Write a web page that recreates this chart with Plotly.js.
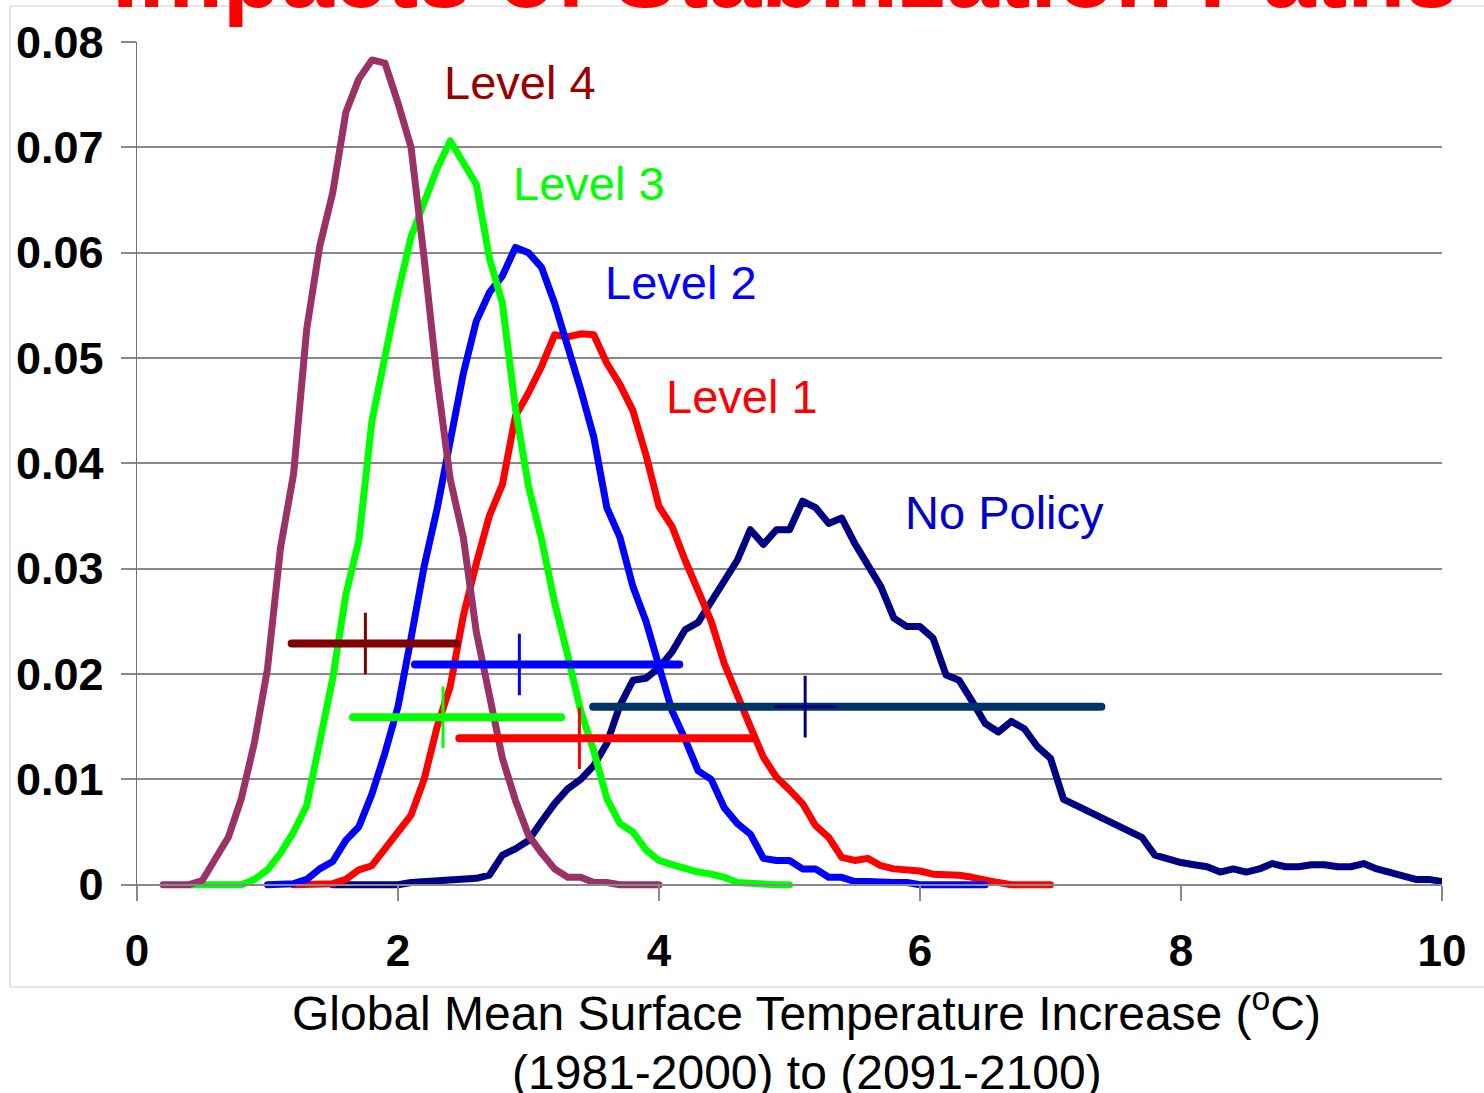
<!DOCTYPE html>
<html>
<head>
<meta charset="utf-8">
<script src="https://cdn.plot.ly/plotly-3.0.1.min.js"></script>
<style>
  html, body { margin: 0; padding: 0; background: #ffffff; }
  #chart { width: 1484px; height: 1093px; }
  /* rounded joins and ends for the density curves and range bars */
  #chart .scatterlayer .js-line { stroke-linejoin: round; stroke-linecap: round; }
</style>
</head>
<body>
<div id="chart"></div>
<script>
// Probability density of warming (°C, 1981-2000 to 2091-2100), 0.1 °C bins.
const seriesNames = ['No Policy', 'Level 1', 'Level 2', 'Level 3', 'Level 4'];
const binStart = [1.5, 1.2, 1.0, 0.4, 0.2];
const binStep = 0.1;

const noPolicy = [
  0, 0, 0, 0, 0, 0, 0.0002, 0.0003, 0.0004, 0.0005,
  0.0006, 0.0006, 0.0009, 0.0028, 0.0034, 0.0042, 0.0060, 0.0077, 0.0091, 0.0100,
  0.0113, 0.0134, 0.0170, 0.0194, 0.0196, 0.0206, 0.0221, 0.0242, 0.0249, 0.0268,
  0.0290, 0.0308, 0.0337, 0.0323, 0.0337, 0.0337, 0.0364, 0.0358, 0.0343, 0.0348,
  0.0324, 0.0304, 0.0283, 0.0253, 0.0245, 0.0245, 0.0234, 0.0199, 0.0194, 0.0174,
  0.0153, 0.0145, 0.0155, 0.0148, 0.0131, 0.0120, 0.0081, 0.0075, 0.0069, 0.0064,
  0.0058, 0.0052, 0.0045, 0.0028, 0.0024, 0.0021, 0.0019, 0.0017, 0.0012, 0.0015,
  0.0012, 0.0015, 0.0020, 0.0017, 0.0017, 0.0019, 0.0019, 0.0017, 0.0017, 0.0020,
  0.0015, 0.0012, 0.0009, 0.0005, 0.0005, 0.0003
];
const level1 = [
  0, 0, 0, 0.0001, 0.0005, 0.0014, 0.0018, 0.0034, 0.0050, 0.0066,
  0.0100, 0.0150, 0.0188, 0.0255, 0.0305, 0.0350, 0.0380, 0.0445, 0.0467, 0.0492,
  0.0522, 0.0520, 0.0523, 0.0522, 0.0495, 0.0475, 0.0450, 0.0408, 0.0359, 0.0340,
  0.0308, 0.0280, 0.0250, 0.0210, 0.0182, 0.0150, 0.0121, 0.0102, 0.0090, 0.0077,
  0.0056, 0.0045, 0.0026, 0.0023, 0.0025, 0.0018, 0.0015, 0.0014, 0.0013, 0.0010,
  0.0010, 0.0009, 0.0007, 0.0004, 0.0002, 0, 0, 0, 0
];
const level2 = [
  0, 0, 0.0001, 0.0005, 0.0015, 0.0022, 0.0042, 0.0055, 0.0086, 0.0125,
  0.0169, 0.0234, 0.0302, 0.0357, 0.0425, 0.0485, 0.0535, 0.0562, 0.0578, 0.0605,
  0.0600, 0.0586, 0.0552, 0.0512, 0.0470, 0.0425, 0.0358, 0.0330, 0.0283, 0.0250,
  0.0205, 0.0165, 0.0138, 0.0108, 0.0100, 0.0073, 0.0058, 0.0048, 0.0025, 0.0023,
  0.0023, 0.0015, 0.0015, 0.0007, 0.0007, 0.0003, 0.0003, 0.0002, 0.0002, 0.0002,
  0, 0, 0, 0, 0, 0
];
const level3 = [
  0, 0, 0, 0, 0, 0.0005, 0.0014, 0.0030, 0.0050, 0.0075,
  0.0135, 0.0196, 0.0275, 0.0327, 0.0440, 0.0505, 0.0562, 0.0615, 0.0648, 0.0680,
  0.0706, 0.0686, 0.0665, 0.0595, 0.0552, 0.0452, 0.0378, 0.0328, 0.0268, 0.0218,
  0.0165, 0.0127, 0.0082, 0.0058, 0.0050, 0.0033, 0.0023, 0.0019, 0.0015, 0.0012,
  0.0010, 0.0007, 0.0002, 0.0001, 0, 0, 0
];
const level4 = [
  0, 0, 0, 0.0004, 0.0025, 0.0045, 0.0082, 0.0135, 0.0205, 0.0320,
  0.0390, 0.0527, 0.0606, 0.0657, 0.0733, 0.0765, 0.0783, 0.0780, 0.0742, 0.0700,
  0.0595, 0.0480, 0.0385, 0.0330, 0.0240, 0.0178, 0.0120, 0.0080, 0.0047, 0.0030,
  0.0015, 0.0007, 0.0007, 0.0002, 0.0002, 0, 0, 0, 0
];
const densities = [noPolicy, level1, level2, level3, level4];

// Range bars with the mean marked: low, mean, high (°C) and the density level they sit at.
const rangeLow  = [3.495, 2.47, 2.13, 1.655, 1.185];
const rangeMean = [5.12, 3.39, 2.93, 2.345, 1.75];
const rangeHigh = [7.39, 4.72, 4.155, 3.25, 2.45];
const rangeLevel = [0.0169, 0.0139, 0.0209, 0.0159, 0.0229];

const xTickVals = [0, 2, 4, 6, 8, 10];
const xTickText = ['0', '2', '4', '6', '8', '10'];
const yTickVals = [0, 0.01, 0.02, 0.03, 0.04, 0.05, 0.06, 0.07, 0.08];
const yTickText = ['0', '0.01', '0.02', '0.03', '0.04', '0.05', '0.06', '0.07', '0.08'];

const chartTitle = 'Impacts of Stabilization Paths';
const xTitleLine1 = 'Global Mean Surface Temperature Increase (<sup>o</sup>C)';
const xTitleLine2 = '(1981-2000) to (2091-2100)';

// Styling
const curveColors = ['#000080', '#ff0000', '#0000ff', '#00ff00', '#993366'];
const barColors   = ['#003366', '#ff0000', '#0000ff', '#00ff00', '#800000'];
const markColors  = ['#000080', '#ff0000', '#0000ff', '#00ff00', '#800000'];
const labelColors = ['#0000cc', '#ff0000', '#0000ff', '#00ff00', '#990000'];
// label anchor (left edge, vertical middle) in data units
const labelPos = [[5.87, 0.0353], [4.04, 0.0463], [3.569, 0.0572], [2.866, 0.0666], [2.335, 0.0762]];

const FONT = 'Liberation Sans, Arial, Helvetica, sans-serif';
const Y_MIN = -0.0006, Y_MAX = 0.08;
const W = 1484, H = 1093, ML = 137, MR = 42, MT = 42, MB = 202;
const plotW = W - ML - MR, plotH = H - MT - MB;
const px2paperX = px => (px - ML) / plotW;
const px2paperY = py => (H - MB - py) / plotH;

function bins(start, n) {
  const xs = [];
  for (let i = 0; i < n; i++) xs.push(Math.round((start + i * binStep) * 10) / 10);
  return xs;
}

const traces = [];
densities.forEach((ys, k) => {
  traces.push({
    type: 'scatter', mode: 'lines', name: seriesNames[k],
    x: bins(binStart[k], ys.length), y: ys,
    line: { color: curveColors[k], width: 7 },
    hoverinfo: 'skip'
  });
});
seriesNames.forEach((name, k) => {
  traces.push({
    type: 'scatter', mode: 'lines', name: name + ' range',
    x: [rangeLow[k], rangeHigh[k]], y: [rangeLevel[k], rangeLevel[k]],
    line: { color: barColors[k], width: 8 },
    hoverinfo: 'skip'
  });
});
traces.push({
  type: 'scatter', mode: 'markers', name: 'mean',
  x: rangeMean, y: rangeLevel,
  marker: { symbol: 'cross-thin', size: 44, color: markColors, line: { color: markColors, width: 3 } },
  cliponaxis: false, hoverinfo: 'skip'
});

const annotations = seriesNames.map((name, k) => ({
  text: name, x: labelPos[k][0], y: labelPos[k][1], xref: 'x', yref: 'y',
  xanchor: 'left', yanchor: 'middle', showarrow: false,
  font: { family: FONT, size: 47, color: labelColors[k] }
}));
annotations.push({
  text: chartTitle, xref: 'paper', yref: 'paper',
  x: px2paperX(785), y: px2paperY(29), xanchor: 'center', yanchor: 'bottom',
  showarrow: false, font: { family: FONT, size: 95, weight: 'bold', color: '#ff0000' }
});
annotations.push({
  text: xTitleLine1, xref: 'paper', yref: 'paper',
  x: px2paperX(806.5), y: px2paperY(1010), xanchor: 'center', yanchor: 'middle',
  showarrow: false, font: { family: FONT, size: 48, color: '#000000' }
});
annotations.push({
  text: xTitleLine2, xref: 'paper', yref: 'paper',
  x: px2paperX(806.5), y: px2paperY(1072), xanchor: 'center', yanchor: 'middle',
  showarrow: false, font: { family: FONT, size: 48, color: '#000000' }
});

const layout = {
  width: W, height: H,
  margin: { l: ML, r: MR, t: MT, b: MB, pad: 0 },
  paper_bgcolor: '#ffffff', plot_bgcolor: 'rgba(0,0,0,0)',
  showlegend: false,
  font: { family: FONT, color: '#000000' },
  xaxis: {
    range: [0, 10], tickvals: xTickVals, ticktext: xTickText,
    ticks: 'outside', ticklen: 15, tickwidth: 1.5, tickcolor: '#888888',
    showgrid: false, zeroline: false,
    showline: true, linecolor: '#888888', linewidth: 2,
    anchor: 'free', position: (0 - Y_MIN) / (Y_MAX - Y_MIN),
    ticklabelstandoff: 13,
    tickfont: { family: FONT, size: 44, weight: 'bold', color: '#000000' },
    fixedrange: true
  },
  yaxis: {
    range: [Y_MIN, Y_MAX], tickvals: yTickVals, ticktext: yTickText,
    ticks: 'outside', ticklen: 15, tickwidth: 2, tickcolor: '#888888',
    showgrid: true, gridcolor: '#888888', gridwidth: 2,
    zeroline: false, showline: true, linecolor: '#707070', linewidth: 1.5,
    ticklabelstandoff: 8,
    tickfont: { family: FONT, size: 45, weight: 'bold', color: '#000000' },
    fixedrange: true
  },
  shapes: [{
    type: 'rect', xref: 'paper', yref: 'paper', layer: 'below',
    x0: px2paperX(10), x1: px2paperX(1495), y0: px2paperY(987), y1: px2paperY(6),
    line: { color: '#cccccc', width: 1 }, fillcolor: 'rgba(0,0,0,0)'
  }],
  annotations: annotations
};

Plotly.newPlot('chart', traces, layout, { displayModeBar: false, staticPlot: true });
</script>
</body>
</html>
